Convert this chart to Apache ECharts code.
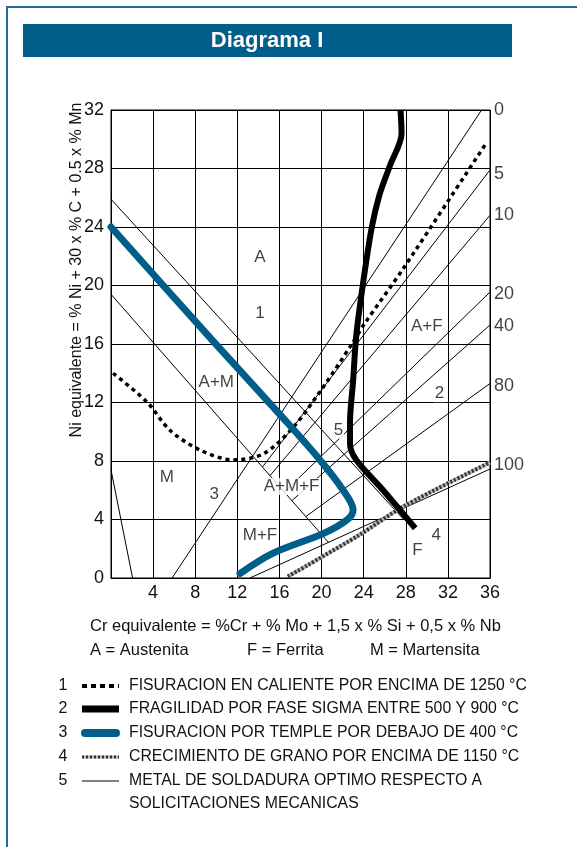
<!DOCTYPE html>
<html>
<head>
<meta charset="utf-8">
<title>Diagrama I</title>
<script src="https://cdn.jsdelivr.net/npm/echarts@6/dist/echarts.min.js"></script>
<style>
  html, body { margin: 0; padding: 0; background: #fff; }
  #chart { width: 577px; height: 847px; }
</style>
</head>
<body>
<div id="chart"></div>
<script>
// Cr equivalente (x) / Ni equivalente (y)
const crMax = 36
const niMax = 32

// 1: fisuracion en caliente (punteada)
const hotCrack = [[0.2, 14.0], [3.4, 12.05], [5.6, 10.1], [8.45, 8.75], [11.6, 8.07], [14.5, 8.5], [17.3, 10.3], [20.2, 13.1], [22.7, 15.8], [24.1, 17.4], [27.8, 21.2], [35.7, 29.8]]
// 2: fase sigma (negra gruesa)
const sigma = [[27.5, 32], [27.6, 30.4], [26.5, 28.2], [25.5, 26.2], [24.75, 23.9], [23.96, 20.25], [23.3, 16.6], [23.0, 13.5], [22.7, 10.6], [22.7, 9.2], [23.3, 8.07], [25.85, 6.0], [28.9, 3.4]]
// 3: fisuracion por temple (azul)
const quench = [[0, 24], [9.7, 16.2], [16.4, 10.9], [19.85, 8.07], [22.05, 6.0], [23.0, 4.65], [22.4, 3.96], [20.2, 3.05], [15.4, 1.7], [12.25, 0.3]]
// 4: crecimiento de grano (trenzada)
const grain = [[16.8, 0.1], [23.6, 2.95], [27.8, 4.9], [36, 7.9]]

// lineas de fase (finas)
const phaseLines = [
  [[0, 25.9], [27.8, 4.0]],   // A / A+M
  [[0, 19.4], [20.7, 2.4]],   // M / A+M
  [[0, 7.4], [2.05, 0]]       // M
]
// lineas de isoferrita: 0, 5, 10, 20, 40, 80, 100 %
const ferriteLines = [
  [[5.8, 0], [35.2, 32]],
  [[14.4, 7.6], [36, 27.9]],
  [[15.1, 7.0], [36, 24.8]],
  [[16.5, 5.9], [36, 19.55]],
  [[17.2, 5.3], [36, 17.3]],
  [[18.5, 4.2], [36, 13.3]],
  [[13.2, 0], [36, 7.45]]
]

// etiquetas del eje derecho (% ferrita)
const ferriteLabels = ['0', '5', '10', '20', '40', '80', '100']
const ferriteLabelNi = [32.0, 27.65, 24.8, 19.45, 17.2, 13.1, 7.7]

// etiquetas de zonas
const regionNames = ['A', '1', 'A+M', 'M', '3', 'A+M+F', 'M+F', '5', 'A+F', '2', 'F', '4']
const regionCr = [14.15, 14.15, 10.0, 5.3, 9.8, 17.15, 14.15, 21.6, 30.0, 31.2, 29.1, 30.9]
const regionNi = [21.9, 18.1, 13.35, 6.9, 5.75, 6.25, 2.95, 10.1, 17.2, 12.6, 1.9, 2.95]

const legendNums = ['1', '2', '3', '4', '5']
const legendTexts = [
  'FISURACION EN CALIENTE POR ENCIMA DE 1250 °C',
  'FRAGILIDAD POR FASE SIGMA ENTRE 500 Y 900 °C',
  'FISURACION POR TEMPLE POR DEBAJO DE 400 °C',
  'CRECIMIENTO DE GRANO POR ENCIMA DE 1150 °C',
  'METAL DE SOLDADURA OPTIMO RESPECTO A'
]

const FONT = '"Liberation Sans", Arial, sans-serif'
const BLUE = '#005f8a'

const chart = echarts.init(document.getElementById('chart'))

const thin = (data) => ({
  type: 'line', data, symbol: 'none', silent: true, z: 2,
  lineStyle: { color: '#000', width: 1 }
})

const series = []
phaseLines.forEach(l => series.push(thin(l)))
ferriteLines.forEach(l => series.push(thin(l)))

series.push({
  type: 'line', data: hotCrack, symbol: 'none', smooth: 0.3, z: 3,
  lineStyle: { color: '#000', width: 3.5, type: [4, 4] }
})
series.push({
  type: 'line', data: grain, symbol: 'none', smooth: 0.3, z: 3,
  lineStyle: { color: '#b5b5b5', width: 4 }
})
series.push({
  type: 'line', data: grain, symbol: 'none', smooth: 0.3, z: 3,
  lineStyle: { color: '#333', width: 4, type: [2, 2] }
})
series.push({
  type: 'line', data: quench, symbol: 'none', smooth: 0.35, z: 4,
  lineStyle: { color: BLUE, width: 7, cap: 'round', join: 'round' }
})
series.push({
  type: 'line', data: sigma, symbol: 'none', smooth: 0.3, z: 5,
  lineStyle: { color: '#000', width: 6, join: 'round' }
})

// etiquetas de zonas
series.push({
  type: 'scatter', symbolSize: 0, z: 6, silent: true,
  data: regionNames.map((n, i) => [regionCr[i], regionNi[i], n]),
  label: {
    show: true, position: 'inside', formatter: p => p.data[2],
    fontSize: 17, fontFamily: FONT, color: '#111',
    backgroundColor: '#fff', padding: [0, 1]
  }
})
// eje derecho
series.push({
  type: 'scatter', symbolSize: 0, z: 6, silent: true,
  data: ferriteLabels.map((t, i) => [crMax, ferriteLabelNi[i], t]),
  label: {
    show: true, position: 'right', distance: 4, formatter: p => p.data[2],
    fontSize: 18, fontFamily: FONT, color: '#111'
  }
})

const graphic = [
  { type: 'rect', shape: { x: 7, y: 7, width: 620, height: 900 }, style: { fill: 'none', stroke: '#1f6e98', lineWidth: 2 }, silent: true },
  { type: 'rect', shape: { x: 23, y: 24, width: 489, height: 33 }, style: { fill: BLUE } },
  { type: 'text', x: 267, y: 41, style: { text: 'Diagrama I', fill: '#fff', font: 'bold 22px ' + FONT, textAlign: 'center', textVerticalAlign: 'middle' } },
  { type: 'text', x: 77, y: 270, rotation: Math.PI / 2, style: { text: 'Ni equivalente = % Ni + 30 x % C + 0.5 x % Mn', fill: '#111', font: '16px ' + FONT, textAlign: 'center', textVerticalAlign: 'middle' } },
  { type: 'text', x: 90, y: 626, style: { text: 'Cr equivalente = %Cr + % Mo + 1,5 x % Si + 0,5 x % Nb', fill: '#111', font: '16.5px ' + FONT, textVerticalAlign: 'middle' } },
  { type: 'text', x: 90, y: 650, style: { text: 'A = Austenita', fill: '#111', font: '16.5px ' + FONT, textVerticalAlign: 'middle' } },
  { type: 'text', x: 247, y: 650, style: { text: 'F = Ferrita', fill: '#111', font: '16.5px ' + FONT, textVerticalAlign: 'middle' } },
  { type: 'text', x: 370, y: 650, style: { text: 'M = Martensita', fill: '#111', font: '16.5px ' + FONT, textVerticalAlign: 'middle' } }
]

const rowY = [686, 709, 733, 757, 781]
legendNums.forEach((n, i) => {
  graphic.push({ type: 'text', x: 63, y: rowY[i], style: { text: n, fill: '#111', font: '16px ' + FONT, textAlign: 'center', textVerticalAlign: 'middle' } })
  graphic.push({ type: 'text', x: 129, y: rowY[i], style: { text: legendTexts[i], fill: '#111', font: '15.8px ' + FONT, textVerticalAlign: 'middle' } })
})
graphic.push({ type: 'text', x: 129, y: 804, style: { text: 'SOLICITACIONES MECANICAS', fill: '#111', font: '15.8px ' + FONT, textVerticalAlign: 'middle' } })

// muestras de la leyenda
graphic.push({ type: 'line', shape: { x1: 82, y1: rowY[0], x2: 119, y2: rowY[0] }, style: { stroke: '#000', lineWidth: 4, lineDash: [5, 4] } })
graphic.push({ type: 'line', shape: { x1: 82, y1: rowY[1], x2: 119, y2: rowY[1] }, style: { stroke: '#000', lineWidth: 7 } })
graphic.push({ type: 'line', shape: { x1: 85, y1: rowY[2], x2: 116, y2: rowY[2] }, style: { stroke: BLUE, lineWidth: 8, lineCap: 'round' } })
graphic.push({ type: 'line', shape: { x1: 82, y1: rowY[3], x2: 119, y2: rowY[3] }, style: { stroke: '#b5b5b5', lineWidth: 3 } })
graphic.push({ type: 'line', shape: { x1: 82, y1: rowY[3], x2: 119, y2: rowY[3] }, style: { stroke: '#333', lineWidth: 3, lineDash: [2, 2] } })
graphic.push({ type: 'line', shape: { x1: 82, y1: rowY[4], x2: 119, y2: rowY[4] }, style: { stroke: '#000', lineWidth: 1 } })

const option = {
  animation: false,
  backgroundColor: '#fff',
  textStyle: { fontFamily: FONT },
  grid: { left: 111, top: 110, width: 379, height: 468, show: true, borderColor: '#000', borderWidth: 1 },
  xAxis: {
    type: 'value', min: 0, max: crMax, interval: 4,
    axisLine: { show: true, lineStyle: { color: '#000' } },
    axisTick: { show: false },
    axisLabel: { fontSize: 18, color: '#111', margin: 6, formatter: v => (v === 0 ? '' : v) },
    splitLine: { show: true, lineStyle: { color: '#000', width: 1 } }
  },
  yAxis: {
    type: 'value', min: 0, max: niMax, interval: 4,
    axisLine: { show: true, lineStyle: { color: '#000' } },
    axisTick: { show: false },
    axisLabel: { fontSize: 18, color: '#111', margin: 7 },
    splitLine: { show: true, lineStyle: { color: '#000', width: 1 } }
  },
  graphic,
  series
}

chart.setOption(option)
</script>
</body>
</html>
